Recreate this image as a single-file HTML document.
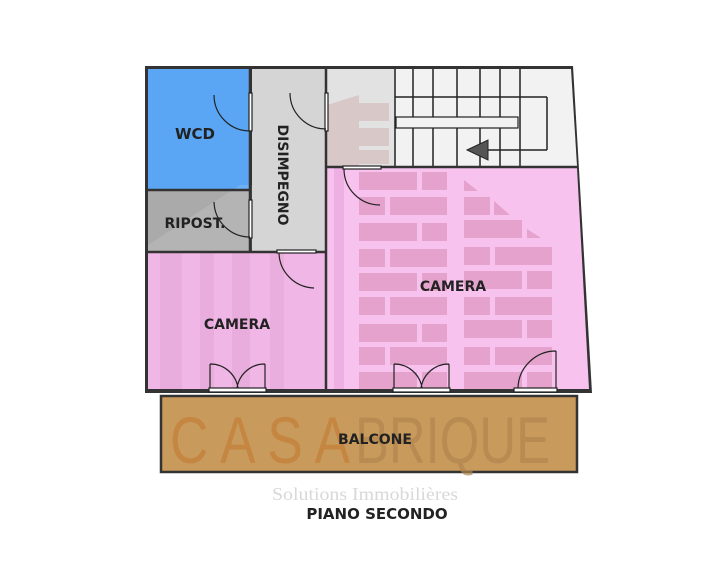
<!DOCTYPE html>
<html><head><meta charset="utf-8"><style>
html,body{margin:0;padding:0;background:#fff;width:709px;height:570px;overflow:hidden}
svg{display:block}
text{font-family:"DejaVu Sans","Liberation Sans",sans-serif;font-weight:bold;fill:#222}
</style></head><body>
<svg width="709" height="570" viewBox="0 0 709 570" xmlns="http://www.w3.org/2000/svg">
<polygon points="145,66 573,66 592,393 145,393" fill="#333"/>
<rect x="148" y="69" width="102" height="120" fill="#5aa6f5"/>
<rect x="148" y="191" width="102" height="60" fill="#aaaaaa"/>
<rect x="252" y="69" width="74" height="182" fill="#d5d5d5"/>
<polygon points="327,69 571,69 577,166 327,166" fill="#f2f2f2"/>
<rect x="327" y="69" width="68" height="97" fill="#e2e2e2"/>
<rect x="148" y="253" width="177" height="136" fill="#f0b6e6"/>
<polygon points="327,168 577,168 589,389 327,389" fill="#f8c2ef"/>
<g fill="#e6a8d8" opacity="0.6">
<rect x="160" y="253" width="22" height="136"/><rect x="200" y="253" width="14" height="136"/><rect x="232" y="253" width="18" height="136"/><rect x="270" y="253" width="14" height="136"/>
</g>
<rect x="334" y="168" width="10" height="221" fill="#eeb0e2"/>
<g fill="#e4a2cc">
<rect x="359" y="172" width="58" height="18"/><rect x="422" y="172" width="25" height="18"/>
<rect x="359" y="197" width="26" height="18"/><rect x="390" y="197" width="57" height="18"/>
<rect x="359" y="223" width="58" height="18"/><rect x="422" y="223" width="25" height="18"/>
<rect x="359" y="249" width="26" height="18"/><rect x="390" y="249" width="57" height="18"/>
<rect x="359" y="273" width="58" height="18"/><rect x="422" y="273" width="25" height="18"/>
<rect x="359" y="297" width="26" height="18"/><rect x="390" y="297" width="57" height="18"/>
<rect x="359" y="324" width="58" height="18"/><rect x="422" y="324" width="25" height="18"/>
<rect x="359" y="347" width="26" height="18"/><rect x="390" y="347" width="57" height="18"/>
<rect x="359" y="372" width="58" height="17"/><rect x="422" y="372" width="25" height="17"/>
<polygon points="464,180 478,191 464,191"/>
<rect x="464" y="197" width="26" height="18"/><polygon points="494,201 510,215 494,215"/>
<rect x="464" y="220" width="58" height="18"/><polygon points="527,229 541,238 527,238"/>
<rect x="464" y="247" width="26" height="18"/><rect x="495" y="247" width="57" height="18"/>
<rect x="464" y="271" width="58" height="18"/><rect x="527" y="271" width="25" height="18"/>
<rect x="464" y="297" width="26" height="18"/><rect x="495" y="297" width="57" height="18"/>
<rect x="464" y="320" width="58" height="18"/><rect x="527" y="320" width="25" height="18"/>
<rect x="464" y="347" width="26" height="18"/><rect x="495" y="347" width="57" height="18"/>
<rect x="464" y="372" width="58" height="17"/><rect x="527" y="372" width="25" height="17"/>
</g>
<g fill="#c89a9a" opacity="0.35">
<rect x="359" y="103" width="30" height="18"/><rect x="359" y="128" width="30" height="18"/><rect x="359" y="150" width="30" height="14"/>
<polygon points="327,105 359,95 359,166 327,166"/>
</g>
<polygon points="148,245 240,185 252,185 252,253 148,253" fill="#fff" opacity="0.12"/>
<g stroke="#222" stroke-width="1.5" fill="none">
<line x1="395" y1="69" x2="395" y2="166"/>
<line x1="413" y1="69" x2="413" y2="166"/><line x1="433" y1="69" x2="433" y2="166"/>
<line x1="457" y1="69" x2="457" y2="166"/><line x1="480" y1="69" x2="480" y2="166"/>
<line x1="500" y1="69" x2="500" y2="166"/><line x1="520" y1="69" x2="520" y2="166"/>
<line x1="395" y1="97" x2="547" y2="97"/><line x1="547" y1="97" x2="547" y2="150"/>
<line x1="547" y1="150" x2="470" y2="150"/>
</g>
<rect x="396" y="117" width="122" height="11" fill="#f2f2f2" stroke="#222" stroke-width="1.2"/>
<polygon points="467,150 488,140 488,160" fill="#555" stroke="#222"/>
<g stroke="#333" stroke-width="2.5">
<line x1="250" y1="68" x2="250" y2="252"/><line x1="147" y1="190" x2="250" y2="190"/>
<line x1="147" y1="252" x2="326" y2="252"/><line x1="326" y1="68" x2="326" y2="390"/>
<line x1="326" y1="167" x2="578" y2="167"/>
</g>
<g stroke="#222" stroke-width="1.2" fill="none">
<rect x="249" y="93" width="3" height="38" fill="#fff"/><path d="M250,131 A36,36 0 0 1 214,95"/>
<rect x="325" y="93" width="3" height="38" fill="#fff"/><path d="M326,129 A36,36 0 0 1 290,93"/>
<rect x="249" y="200" width="3" height="38" fill="#fff"/><path d="M250,237 A36,36 0 0 1 214,202"/>
<rect x="343" y="166" width="38" height="3" fill="#fff"/><path d="M380,205 A36,36 0 0 1 344,169"/>
<rect x="277" y="250" width="39" height="3" fill="#fff"/><path d="M314,288 A36,36 0 0 1 279,253"/>
<rect x="209" y="388" width="57" height="4" fill="#fff"/><path d="M210,364 L210,388 M210,364 A28,28 0 0 1 238,388 M265,364 L265,388 M265,364 A28,28 0 0 0 237,388"/>
<rect x="393" y="388" width="57" height="4" fill="#fff"/><path d="M394,364 L394,388 M394,364 A28,28 0 0 1 422,388 M449,364 L449,388 M449,364 A28,28 0 0 0 421,388"/>
<rect x="514" y="388" width="43" height="4" fill="#fff"/><path d="M556,351 L556,388 M556,351 A38,38 0 0 0 518,388"/>
</g>
<rect x="161" y="396" width="416" height="76" fill="#c89a5c" stroke="#333" stroke-width="2.5"/>
<text x="170" y="463" style="font-family:'Liberation Sans Narrow','Liberation Sans',sans-serif;font-weight:normal;font-size:66px;fill:#c47a30;opacity:0.6" textLength="180" lengthAdjust="spacingAndGlyphs">C A S A</text>
<text x="355" y="463" style="font-family:'Liberation Sans Narrow','Liberation Sans',sans-serif;font-weight:normal;font-size:66px;fill:#b0864e;opacity:0.7" textLength="195" lengthAdjust="spacingAndGlyphs">BRIQUE</text>
<text x="195" y="139" font-size="15" text-anchor="middle">WCD</text>
<text x="195" y="228" font-size="14" text-anchor="middle">RIPOST.</text>
<text transform="translate(283,175) rotate(90)" font-size="14" text-anchor="middle" dy="5">DISIMPEGNO</text>
<text x="453" y="291" font-size="14" text-anchor="middle">CAMERA</text>
<text x="237" y="329" font-size="14" text-anchor="middle">CAMERA</text>
<text x="375" y="444" font-size="14" text-anchor="middle">BALCONE</text>
<text x="365" y="500" style="font-family:'Liberation Serif',serif;font-weight:normal;font-size:18px;fill:#d8d8d8" text-anchor="middle" textLength="186" lengthAdjust="spacingAndGlyphs">Solutions Immobilières</text>
<text x="377" y="519" font-size="15" text-anchor="middle">PIANO SECONDO</text>
</svg>
</body></html>
